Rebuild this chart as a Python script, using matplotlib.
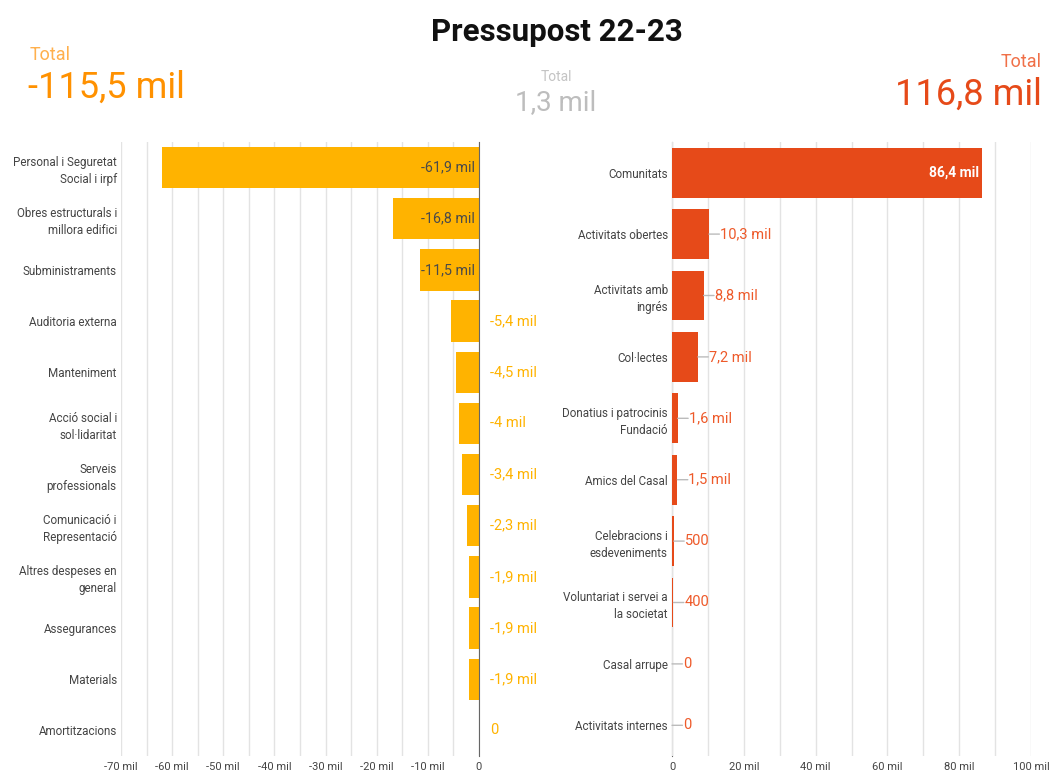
import matplotlib
matplotlib.use("Agg")
import matplotlib.pyplot as plt
import numpy as np

plt.rcParams['font.family'] = ['Roboto', 'DejaVu Sans']

# ---------------- data (values in thousands of euros) ----------------
expense_categories = [
    "Personal i Seguretat\nSocial i irpf", "Obres estructurals i\nmillora edifici",
    "Subministraments", "Auditoria externa", "Manteniment",
    "Acció social i\nsol·lidaritat", "Serveis\nprofessionals",
    "Comunicació i\nRepresentació", "Altres despeses en\ngeneral",
    "Assegurances", "Materials", "Amortitzacions",
]
expense_values = [-61.9, -16.8, -11.5, -5.4, -4.5, -4.0, -3.4, -2.3, -1.9, -1.9, -1.9, 0.0]

income_categories = [
    "Comunitats", "Activitats obertes", "Activitats amb\ningrés", "Col·lectes",
    "Donatius i patrocinis\nFundació", "Amics del Casal", "Celebracions i\nesdeveniments",
    "Voluntariat i servei a\nla societat", "Casal arrupe", "Activitats internes",
]
income_values = [86.4, 10.3, 8.8, 7.2, 1.6, 1.5, 0.5, 0.4, 0.0, 0.0]

left_ticks = [-70, -60, -50, -40, -30, -20, -10, 0]
left_tick_labels = ["-70 mil", "-60 mil", "-50 mil", "-40 mil", "-30 mil", "-20 mil", "-10 mil", "0"]
right_ticks = [0, 20, 40, 60, 80, 100]
right_tick_labels = ["0", "20 mil", "40 mil", "60 mil", "80 mil", "100 mil"]

title = "Pressupost 22-23"
total_label = "Total"
total_expense = "-115,5 mil"
total_balance = "1,3 mil"
total_income = "116,8 mil"

# ---------------- styling ----------------
C_LEFT = "#FFB300"
C_RIGHT = "#E64A19"
C_RIGHT_TXT = "#EE5A2A"
GRID = "#E3E3E3"
W, H = 1051, 774


def fmt(v):
    if v == 0:
        return "0"
    if abs(v) < 1:
        return str(int(round(v * 1000)))
    s = f"{v:.1f}".replace(".", ",")
    if s.endswith(",0"):
        s = s[:-2]
    return s + " mil"


fig = plt.figure(figsize=(W / 100, H / 100), dpi=100)

def fx(px):
    return px / W

def fy(py):
    return 1 - py / H

y_top, y_bot = 142, 756
axL = fig.add_axes([fx(121), fy(y_bot), fx(479) - fx(121), fy(y_top) - fy(y_bot)])
axR = fig.add_axes([fx(672), fy(y_bot), fx(1031) - fx(672), fy(y_top) - fy(y_bot)])

# ---- left panel ----
yl = np.arange(len(expense_categories))
axL.barh(yl, expense_values, height=0.81, color=C_LEFT, zorder=2)
axL.set_xlim(-70, 0)
axL.set_ylim(len(yl) - 0.5, -0.5)
axL.set_xticks(left_ticks)
axL.set_xticklabels(left_tick_labels)
axL.set_xticks(np.arange(-70, 1, 5), minor=True)
axL.grid(axis="x", which="both", color=GRID, lw=1, zorder=0)
axL.set_yticks(yl)
axL.set_yticklabels(expense_categories, fontsize=8.4, color="#444444", linespacing=1.4)
for sp in ["top", "left", "bottom"]:
    axL.spines[sp].set_visible(False)
axL.spines["right"].set_color("#666666")
axL.spines["right"].set_zorder(3)
axL.tick_params(axis="y", length=0, pad=3)
axL.tick_params(axis="x", which="both", length=0, pad=4, labelsize=8, labelcolor="#444444")
for i, v in enumerate(expense_values):
    if abs(v) >= 10:
        axL.annotate(fmt(v), xy=(0, i), xytext=(-3, 0), textcoords="offset points",
                     ha="right", va="center", fontsize=10.3, color="#4a4a4a", zorder=4)
    else:
        axL.annotate(fmt(v), xy=(0, i), xytext=(8, 0), textcoords="offset points",
                     ha="left", va="center", fontsize=10.5, color=C_LEFT, zorder=4,
                     annotation_clip=False)

# ---- right panel ----
yr = np.arange(len(income_categories))
axR.barh(yr, income_values, height=0.81, color=C_RIGHT, zorder=2)
axR.set_xlim(0, 100)
axR.set_ylim(len(yr) - 0.5, -0.5)
axR.set_xticks(right_ticks)
axR.set_xticklabels(right_tick_labels)
axR.set_xticks(np.arange(0, 101, 10), minor=True)
axR.grid(axis="x", which="both", color=GRID, lw=1, zorder=0)
axR.set_yticks(yr)
axR.set_yticklabels(income_categories, fontsize=8.4, color="#444444", linespacing=1.4)
for sp in ["top", "right", "bottom"]:
    axR.spines[sp].set_visible(False)
axR.spines["left"].set_color("#666666")
axR.spines["left"].set_zorder(1)
axR.tick_params(axis="y", length=0, pad=3)
axR.tick_params(axis="x", which="both", length=0, pad=4, labelsize=8, labelcolor="#444444")
for i, v in enumerate(income_values):
    if v >= 50:
        axR.annotate(fmt(v), xy=(v, i), xytext=(-2, 0), textcoords="offset points",
                     ha="right", va="center", fontsize=10, color="white",
                     fontweight="bold", zorder=4)
    else:
        axR.annotate("", xy=(v, i), xytext=(7.5, 0), textcoords="offset points",
                     arrowprops=dict(arrowstyle="-", color="#BBBBBB", lw=1,
                                     shrinkA=0, shrinkB=0), zorder=4)
        axR.annotate(fmt(v), xy=(v, i), xytext=(8, 0), textcoords="offset points",
                     ha="left", va="center", fontsize=10.5, color=C_RIGHT_TXT, zorder=4)

# ---- header ----
fig.text(fx(557), fy(32), title, ha="center", va="center", fontsize=22.5,
         fontweight="bold", color="#111111")
fig.text(fx(30), fy(55), total_label, ha="left", va="center", fontsize=13, color="#FFB04D")
fig.text(fx(28), fy(88), total_expense, ha="left", va="center", fontsize=26, color="#FF9100")
fig.text(fx(556), fy(77), total_label, ha="center", va="center", fontsize=10, color="#C4C4C4")
fig.text(fx(556), fy(103), total_balance, ha="center", va="center", fontsize=20, color="#BDBDBD")
fig.text(fx(1042), fy(62), total_label, ha="right", va="center", fontsize=13, color="#F07048")
fig.text(fx(1042), fy(95), total_income, ha="right", va="center", fontsize=26, color=C_RIGHT)

fig.savefig("out.png", dpi=100)
